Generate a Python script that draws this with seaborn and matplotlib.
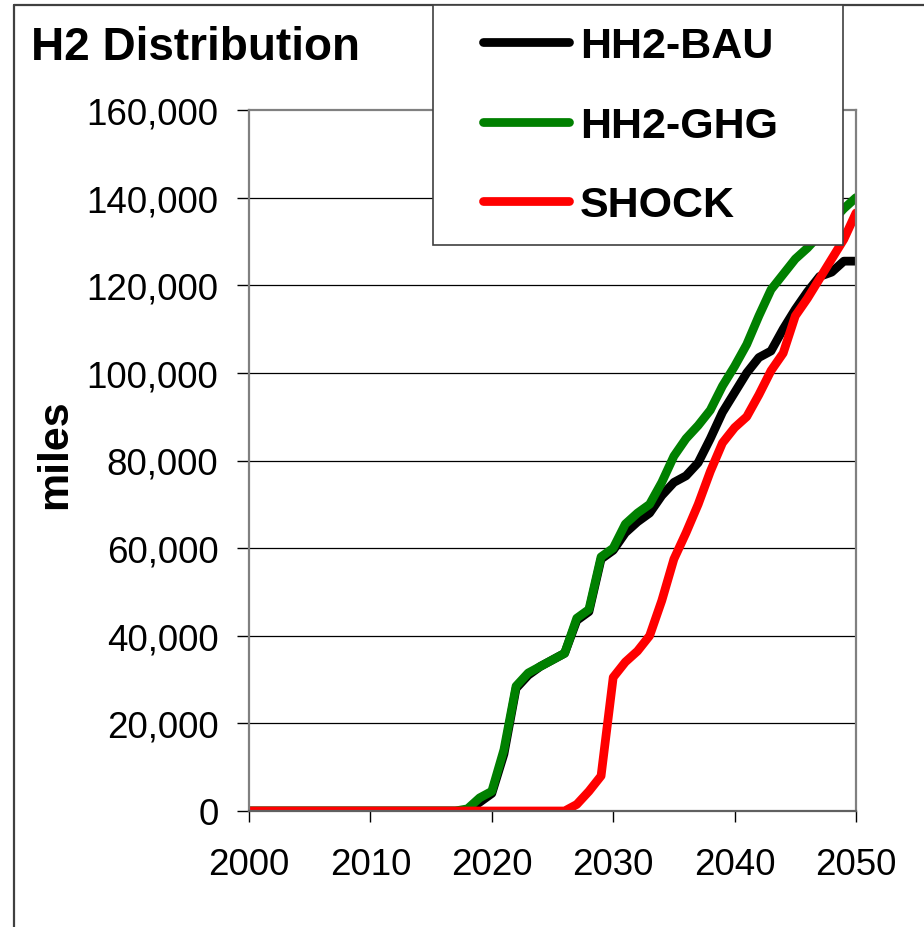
import numpy as np
import pandas as pd
import matplotlib
matplotlib.use("Agg")
import matplotlib.pyplot as plt
import seaborn as sns
from matplotlib.patches import Rectangle
from matplotlib.lines import Line2D
from matplotlib.ticker import FuncFormatter

years = list(range(2000, 2051))
hh2_bau = [0] * 18 + [0, 2000, 4000, 13000, 28000, 31000, 33000, 34500, 36000, 43500,
                      45500, 57500, 59500, 63500, 66000, 68000, 72000, 75000, 76500, 79500,
                      85000, 91000, 95500, 100000, 103500, 105000, 110000, 114500, 118500,
                      122000, 123000, 125500, 125500]
hh2_ghg = [0] * 18 + [500, 3000, 4500, 14000, 28500, 31500, 33000, 34500, 36000, 44000,
                      46000, 58000, 60000, 65500, 68000, 70000, 75000, 81000, 85000, 88000,
                      91500, 97000, 101500, 106500, 113000, 119000, 122500, 126000, 128500,
                      131500, 134500, 137500, 140000]
shock = [0] * 27 + [1500, 4500, 8000, 30500, 34000, 36500, 40000, 48000, 57500, 63500,
                    70000, 77500, 84000, 87500, 90000, 95000, 100500, 104500, 113000, 117000,
                    121500, 126000, 130500, 136500]
series_names = ["HH2-BAU", "HH2-GHG", "SHOCK"]
colors = ["#000000", "#008000", "#FF0000"]
x_ticks = [2000, 2010, 2020, 2030, 2040, 2050]
y_ticks = list(range(0, 160001, 20000))

df = pd.DataFrame({
    "year": years * 3,
    "miles": hh2_bau + hh2_ghg + shock,
    "series": [series_names[0]] * len(years) + [series_names[1]] * len(years) + [series_names[2]] * len(years),
})

sns.set_theme(style="white")
plt.rcParams["font.family"] = ["Liberation Sans", "DejaVu Sans"]
plt.rcParams["text.color"] = "black"
plt.rcParams["xtick.color"] = "black"
plt.rcParams["ytick.color"] = "black"

W, H = 924, 928
fig = plt.figure(figsize=(W / 100, H / 100), dpi=100)
ax = fig.add_axes([249 / W, 1 - 812 / H, (856 - 249) / W, (812 - 111) / H])

sns.lineplot(data=df, x="year", y="miles", hue="series", hue_order=series_names,
             palette=dict(zip(series_names, colors)), linewidth=6.3, ax=ax,
             legend=False, solid_joinstyle="round", solid_capstyle="round")

ax.set_xlim(2000, 2050)
ax.set_ylim(0, 160000)
ax.set_xticks(x_ticks)
ax.set_yticks(y_ticks)
ax.yaxis.set_major_formatter(FuncFormatter(lambda v, p: f"{int(v):,}"))
ax.set_xlabel("")
ax.set_ylabel("")
ax.grid(False)
for v in y_ticks[1:-1]:
    ax.axhline(v, color="black", lw=0.9, zorder=0.5)
for s in ax.spines.values():
    s.set_color("#808080")
    s.set_linewidth(1.6)
ax.spines["bottom"].set_color("#606060")
ax.tick_params(axis="y", direction="out", length=9, width=1, color="black",
               labelcolor="black", labelsize=26.5, pad=13)
ax.tick_params(axis="x", direction="out", length=8, width=1, color="black",
               labelcolor="black", labelsize=26.5, pad=18)
ax.tick_params(left=True, bottom=True)

# title and axis label
fig.text(31 / W, 1 - 48 / H, "H2 Distribution", fontsize=33, fontweight="bold",
         ha="left", va="center", color="black")
fig.text(55 / W, 1 - 454 / H, "miles", fontsize=31, fontweight="bold",
         rotation=90, ha="center", va="center", color="black")

# figure frame (clipped at right and bottom)
fig.add_artist(Line2D([14 / W, 14 / W], [0, 1 - 6 / H], transform=fig.transFigure,
                      color="#404040", lw=1.6))
fig.add_artist(Line2D([14 / W, 1], [1 - 6 / H, 1 - 6 / H], transform=fig.transFigure,
                      color="#404040", lw=1.6))

# legend box
fig.add_artist(Rectangle((433 / W, 1 - 246 / H), (843 - 433) / W, (246 - 6) / H,
                         transform=fig.transFigure, facecolor="white",
                         edgecolor="#404040", lw=1.2, zorder=5))
handles = [Line2D([0], [0], color=c, lw=6.3, solid_capstyle="round") for c in colors]
leg = fig.legend(handles, series_names, loc="upper left",
                 bbox_to_anchor=(483 / W, 1 - 27 / H), bbox_transform=fig.transFigure,
                 frameon=False, prop={"weight": "bold", "size": 31},
                 handlelength=2.0, handletextpad=0.25, labelspacing=0.92,
                 borderpad=0, borderaxespad=0)
for t in leg.get_texts():
    t.set_color("black")
leg.set_zorder(6)

fig.savefig("out.png", dpi=100)
